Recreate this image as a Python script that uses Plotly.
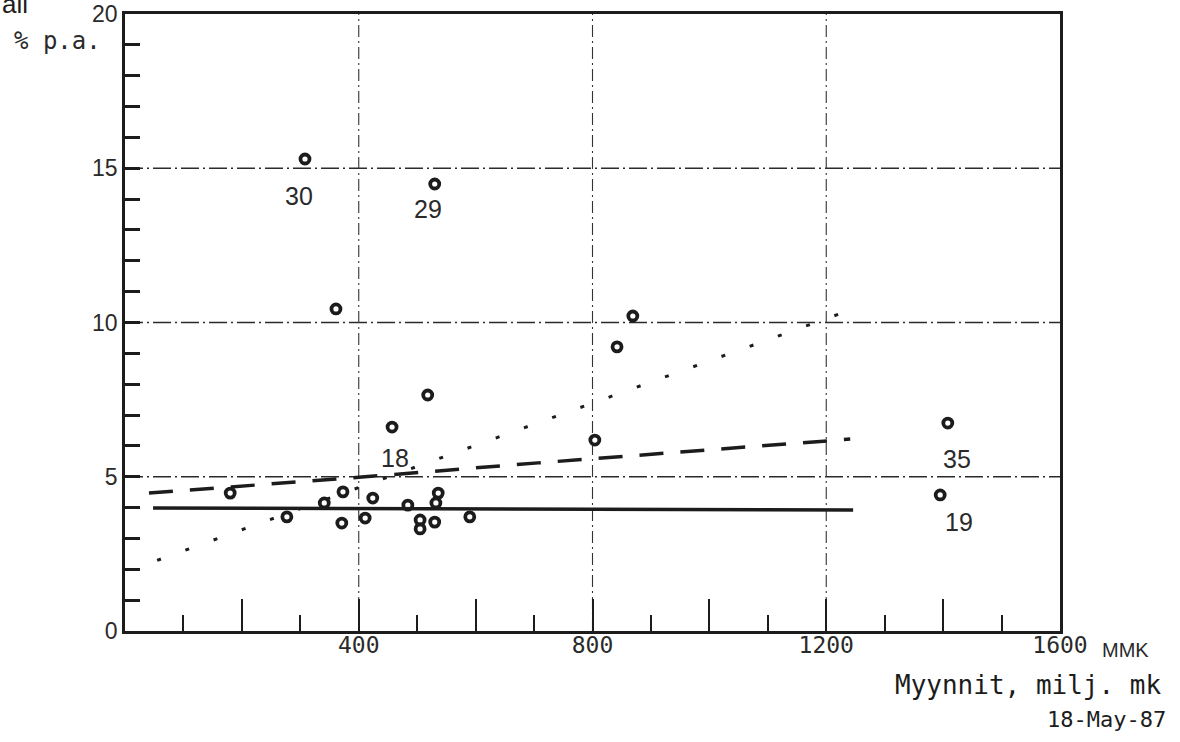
import plotly.graph_objects as go

# ---------------- data ----------------
sales = [308, 530, 361, 869, 842, 518, 457, 804, 1408, 1395, 180, 341,
         373, 424, 277, 371, 411, 484, 536, 532, 505, 505, 530, 590]
profit = [15.30, 14.49, 10.44, 10.21, 9.21, 7.65, 6.61, 6.19, 6.74, 4.41, 4.47, 4.15,
          4.51, 4.31, 3.70, 3.50, 3.66, 4.08, 4.47, 4.15, 3.60, 3.31, 3.53, 3.70]
point_labels = ["30", "29", "", "", "", "", "18", "", "35", "19", "", "",
                "", "", "", "", "", "", "", "", "", "", "", ""]

solid_x = [48, 1246]
solid_y = [3.99, 3.92]
dashed_x = [41, 405, 707, 1155, 1241]
dashed_y = [4.47, 4.99, 5.45, 6.09, 6.22]
dotted_x = [55, 1236]
dotted_y = [2.29, 10.37]

x_tick_vals = [0, 200, 400, 600, 800, 1000, 1200, 1400, 1600]
x_tick_text = ["", "", "400", "", "800", "", "1200", "", "1600"]
y_tick_vals = [0, 5, 10, 15, 20]
y_tick_text = ["0", "5", "10", "15", "20"]
grid_x = [400, 800, 1200]
grid_y = [5, 10, 15]

# ---------------- style ----------------
INK = "#1c1c1c"
MONO = "DejaVu Sans Mono"
SANS = "Liberation Sans"
label_shift = {"30": (-6, -37), "29": (-7, -25), "18": (3, -31), "35": (9, -36), "19": (19, -27)}

fig = go.Figure()

fig.add_trace(go.Scatter(x=solid_x, y=solid_y, mode="lines",
                         line=dict(color=INK, width=3.5), hoverinfo="skip", showlegend=False))
fig.add_trace(go.Scatter(x=dashed_x, y=dashed_y, mode="lines",
                         line=dict(color=INK, width=3.5, dash="24px,17px"),
                         hoverinfo="skip", showlegend=False))
fig.add_trace(go.Scatter(x=dotted_x, y=dotted_y, mode="lines",
                         line=dict(color=INK, width=3, dash="4px,26px"),
                         hoverinfo="skip", showlegend=False))
fig.add_trace(go.Scatter(x=sales, y=profit, mode="markers",
                         marker=dict(symbol="circle-open", size=9, color=INK,
                                     line=dict(color=INK, width=3.8)),
                         showlegend=False))

annotations = []
for xv, yv, lab in zip(sales, profit, point_labels):
    if lab:
        dx, dy = label_shift[lab]
        annotations.append(dict(x=xv, y=yv, xref="x", yref="y", text=lab, showarrow=False,
                                xshift=dx, yshift=dy,
                                font=dict(family=SANS, size=25, color="#2a2a2a")))

annotations += [
    dict(xref="paper", yref="paper", x=-0.1337, y=0.9887, xanchor="left", yanchor="bottom",
         text="all", showarrow=False, font=dict(family=SANS, size=26, color=INK)),
    dict(xref="paper", yref="paper", x=-0.121, y=0.957, xanchor="left", yanchor="middle",
         text="% p.a.", showarrow=False, font=dict(family=MONO, size=24, color="#2a2a2a")),
    dict(xref="paper", yref="paper", x=1.0428, y=-0.031, xanchor="left", yanchor="middle",
         text="MMK", showarrow=False, font=dict(family=SANS, size=20, color="#2a2a2a")),
    dict(xref="paper", yref="paper", x=1.110, y=-0.0875, xanchor="right", yanchor="middle",
         text="Myynnit, milj. mk", showarrow=False, font=dict(family=MONO, size=26, color=INK)),
    dict(xref="paper", yref="paper", x=1.1155, y=-0.144, xanchor="right", yanchor="middle",
         text="18-May-87", showarrow=False, font=dict(family=MONO, size=22, color=INK)),
]

shapes = []
for gy in grid_y:
    shapes.append(dict(type="line", xref="paper", yref="y", x0=0, x1=1, y0=gy, y1=gy,
                       line=dict(color="#2b2b2b", width=1.6, dash="18px,4px,2px,4px"), layer="below"))
for gx in grid_x:
    shapes.append(dict(type="line", xref="x", yref="paper", x0=gx, x1=gx, y0=0, y1=1,
                       line=dict(color="#333333", width=1.1, dash="12px,4px,2px,4px"), layer="below"))

fig.update_layout(
    width=1180, height=742,
    margin=dict(l=125, r=120, t=14, b=111, autoexpand=False),
    paper_bgcolor="white", plot_bgcolor="white",
    annotations=annotations, shapes=shapes,
    xaxis=dict(range=[0, 1600], showgrid=False, zeroline=False, automargin=False,
               showline=True, linecolor=INK, linewidth=2.8, mirror=True,
               tickmode="array", tickvals=x_tick_vals, ticktext=x_tick_text,
               ticks="inside", ticklen=32, tickwidth=1.6, tickcolor=INK,
               ticklabelstandoff=-9,
               minor=dict(dtick=100, tick0=0, ticks="inside", ticklen=16, tickwidth=1.6,
                          tickcolor=INK, showgrid=False),
               tickfont=dict(family=MONO, size=23, color="#2a2a2a")),
    yaxis=dict(range=[0, 20], showgrid=False, zeroline=False, automargin=False,
               showline=True, linecolor=INK, linewidth=2.8, mirror=True,
               tickmode="array", tickvals=y_tick_vals, ticktext=y_tick_text,
               ticks="inside", ticklen=15, tickwidth=3, tickcolor=INK,
               minor=dict(dtick=1, tick0=0, ticks="inside", ticklen=15, tickwidth=3,
                          tickcolor=INK, showgrid=False),
               tickfont=dict(family=SANS, size=23, color="#2a2a2a")),
)

fig.write_html("out.html")
